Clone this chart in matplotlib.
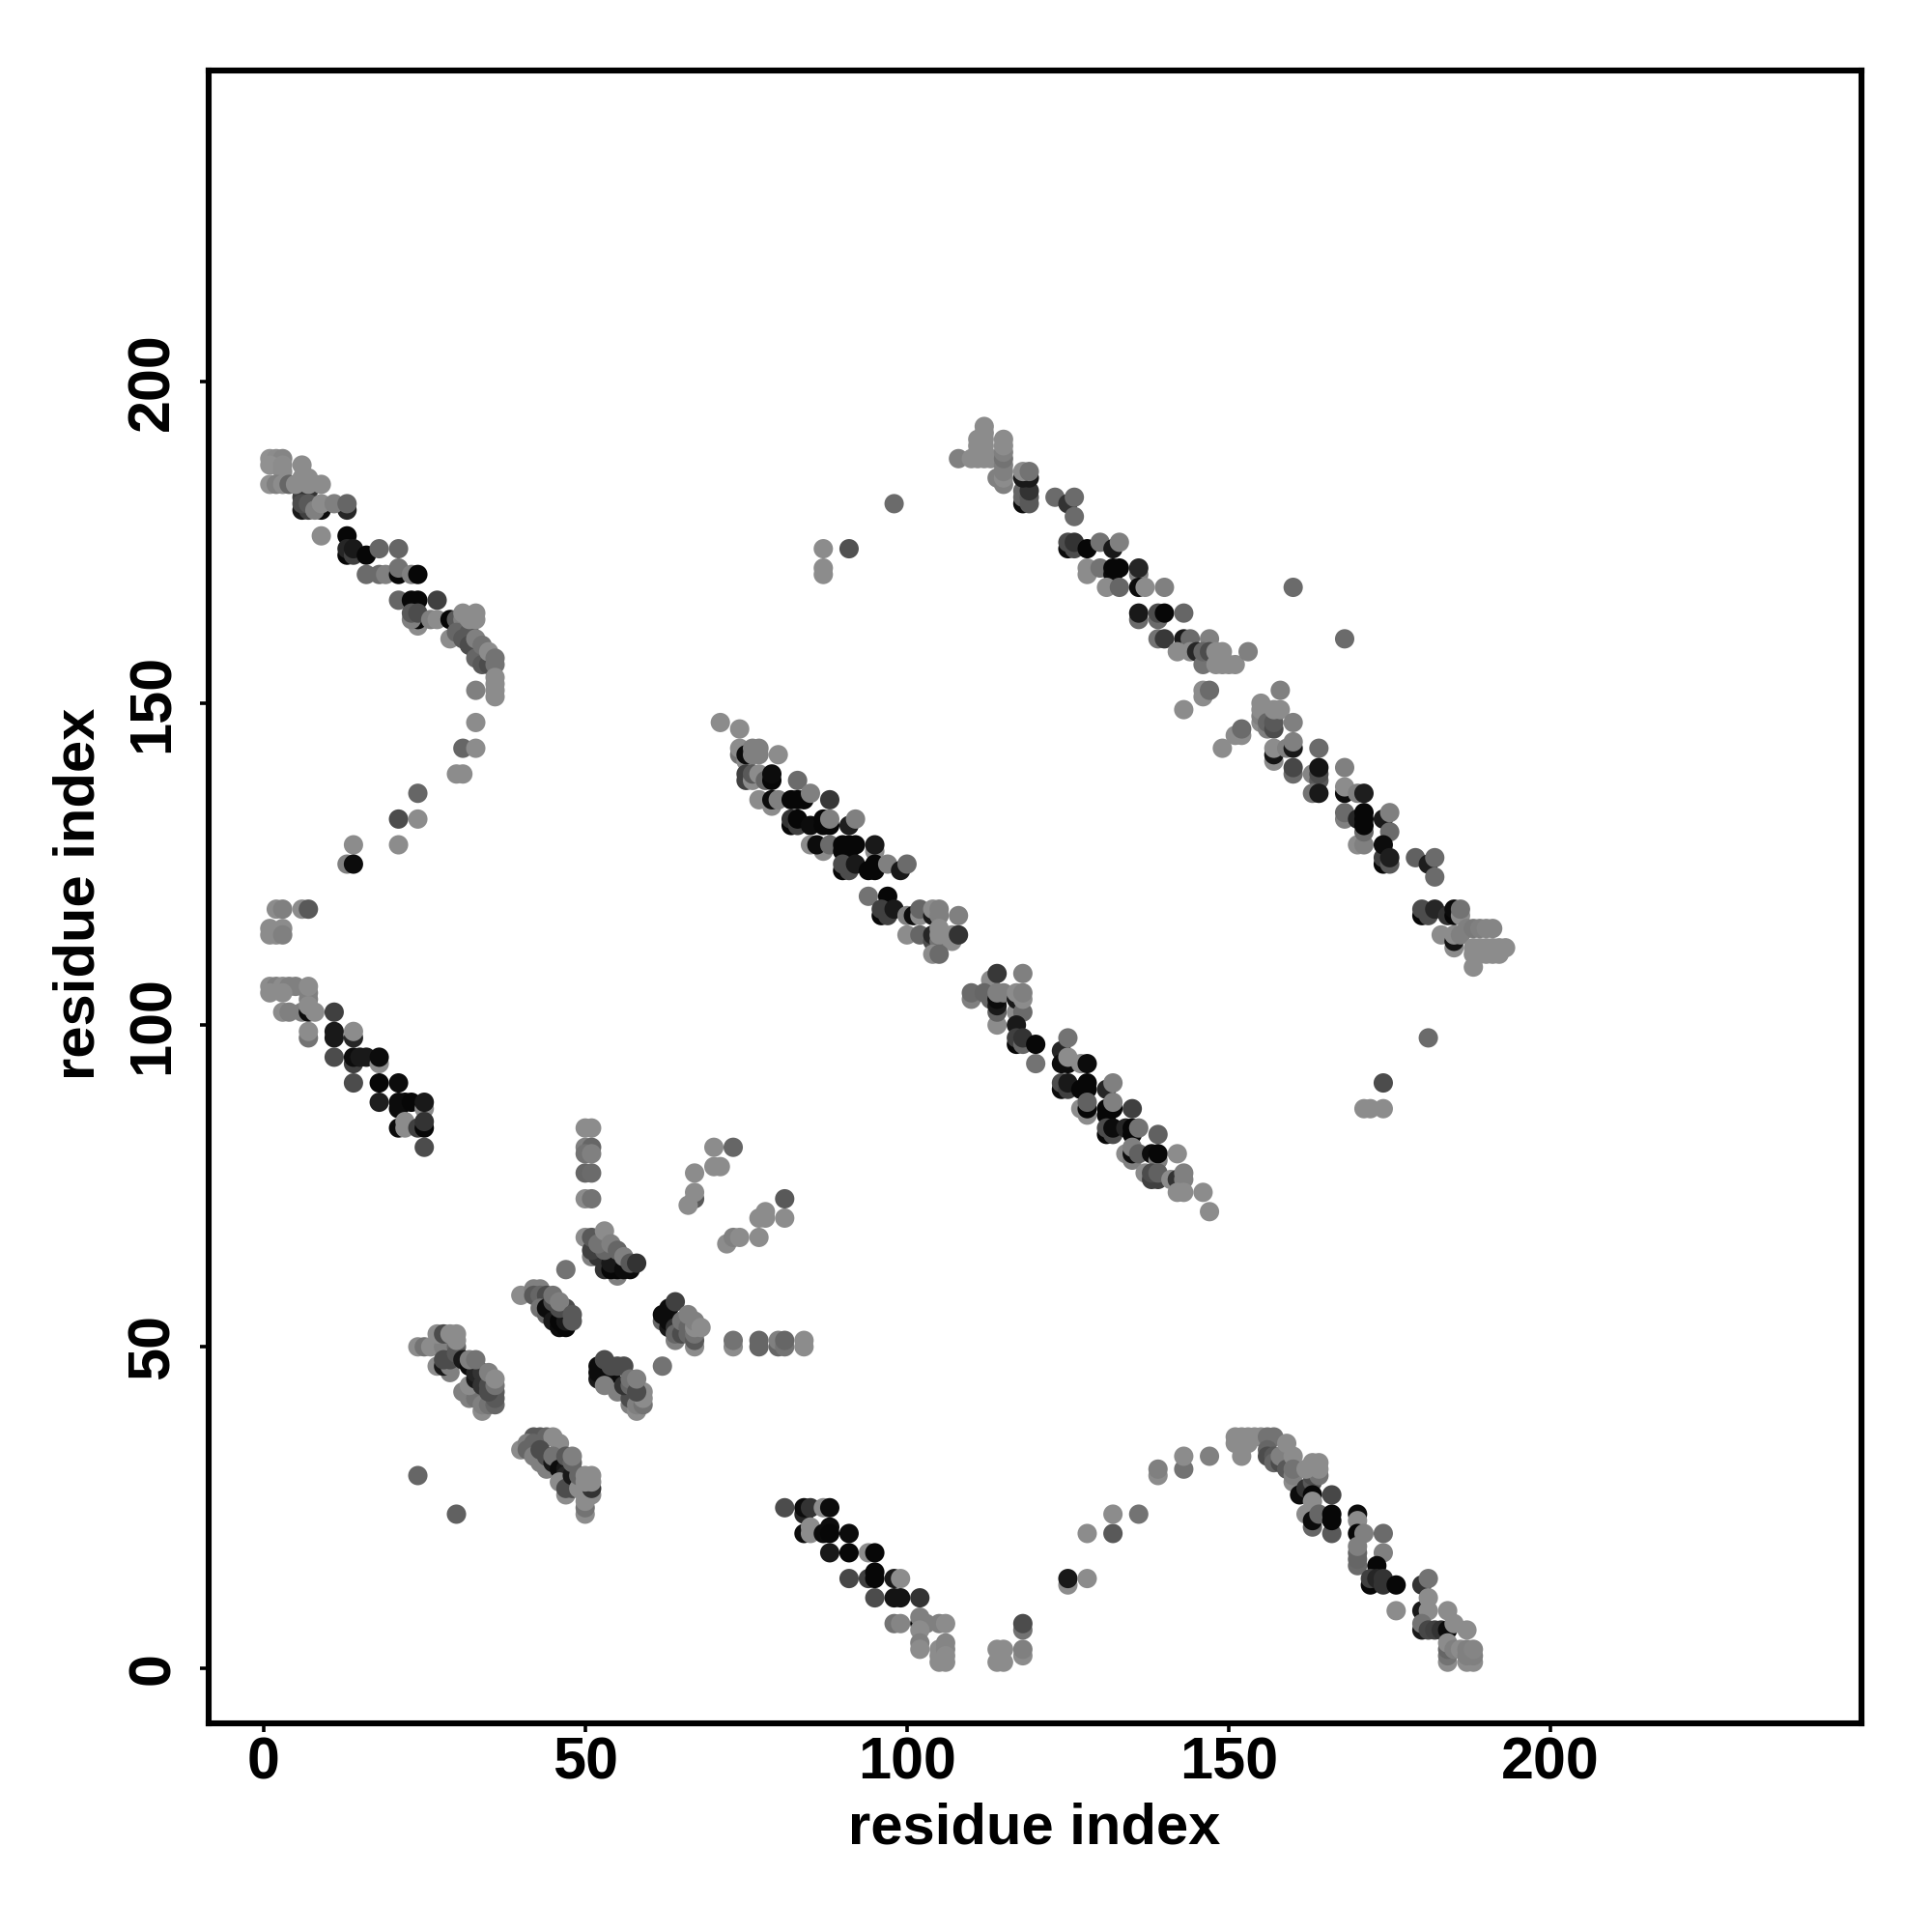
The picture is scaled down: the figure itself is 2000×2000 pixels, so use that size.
"""Contact map: residue index vs residue index, shade = contact score."""
import matplotlib
matplotlib.use("Agg")
import matplotlib.pyplot as plt

plt.rcParams["font.family"] = ["Liberation Sans", "DejaVu Sans"]

# (residue i, residue j, shade), one list per band
BAND_TOP_LEFT = [
    (6,183,.05),(6,182,.25),(7,183,.2),(1,188,.57),(2,188,.55),(3,188,.52),(1,187,.57),(3,187,.55),(3,186,.55),
    (1,184,.57),(2,184,.5),(3,184,.55),(4,184,.4),(5,184,.55),(6,187,.55),(6,185,.55),(7,185,.55),(7,184,.55),
    (9,184,.55),(6,180,.1),(7,180,.25),(9,180,.05),(13,180,.15),(6,181,.3),(7,181,.35),(8,180,.5),(9,181,.55),
    (11,181,.5),(13,181,.4),(9,176,.55),(13,176,.03),(13,173,.03),(13,174,.15),(14,173,.25),(14,174,.1),(16,173,.03),
    (18,174,.4),(21,174,.4),(16,170,.42),(18,170,.42),(19,170,.5),(21,170,.03),(21,171,.45),(23,170,.5),(24,170,.03),
    (21,166,.4),(23,166,.03),(24,166,.03),(27,166,.25),(24,162,.55),(24,163,.03),(23,163,.5),(23,164,.35),(24,164,.3),
    (26,163,.5),(27,163,.55),(29,163,.03),(30,163,.35),(31,163,.5),(29,160,.55),(31,161,.55),(30,161,.4),(31,160,.35),
    (32,161,.35),(32,159,.3),(33,158,.3),(34,157,.3),(33,157,.4),(34,156,.35),(35,156,.3),(31,164,.55),(33,164,.55),
    (32,163,.55),(33,163,.55),(33,160,.5),(34,159,.45),(35,158,.55),(36,157,.45),(36,156,.45),(36,154,.55),(36,153,.55),
    (36,152,.55),(36,151,.55),(33,152,.5),(33,147,.55),(31,143,.4),(33,143,.55),(30,139,.55),(31,139,.55),(24,136,.4),
    (24,132,.55),(21,132,.3),(21,128,.55),(14,128,.55),(13,125,.5),(14,125,.05),
]
BAND_LEFT = [
    (2,118,.55),(3,118,.5),(6,118,.55),(7,118,.35),(1,115,.55),(3,115,.55),(1,114,.55),(2,114,.55),(3,114,.5),
    (1,106,.55),(2,106,.5),(3,106,.55),(4,106,.5),(5,106,.5),(1,105,.55),(3,105,.55),(7,104,.5),(7,105,.5),(7,106,.55),
    (3,102,.55),(4,102,.5),(6,102,.5),(7,102,.05),(7,103,.55),(8,102,.55),(11,102,.25),(7,98,.45),(7,99,.55),
    (11,99,.1),(11,98,.1),(14,98,.15),(14,99,.55),(11,95,.3),(14,94,.25),(14,95,.05),(15,95,.1),(16,95,.1),
    (18,94,.55),(18,95,.05),(14,91,.3),(18,91,.03),(21,91,.05),(18,88,.12),(21,87,.05),(21,88,.05),(22,88,.05),
    (23,88,.03),(25,87,.55),(25,88,.1),(21,84,.05),(22,85,.55),(22,84,.55),(24,84,.25),(25,84,.03),(25,85,.2),(25,81,.3),
]
BAND_CENTRE_UPPER = [
    (50,84,.55),(51,84,.55),(50,81,.5),(51,81,.4),(50,80,.45),(51,80,.5),(50,77,.4),(51,77,.42),(50,73,.55),(51,73,.45),
    (50,67,.55),(51,64,.5),(55,61,.5),(52,64,.2),(51,65,.25),(51,67,.35),(53,62,.2),(54,62,.03),(55,62,.03),(54,63,.1),
    (56,62,.05),(57,62,.05),(53,65,.4),(52,66,.45),(53,68,.55),(54,66,.5),(55,65,.4),(56,64,.5),(57,63,.35),(58,63,.2),
    (47,62,.45),(40,58,.55),(42,59,.5),(43,59,.5),(42,58,.35),(43,58,.4),(44,58,.3),(43,56,.45),(44,55,.4),(44,56,.05),
    (45,55,.05),(45,54,.1),(46,53,.05),(47,53,.03),(46,54,.03),(47,54,.1),(45,57,.3),(46,56,.3),(47,56,.3),(45,58,.45),
    (46,57,.5),(48,55,.35),(48,54,.35),
    (64,51,.5),(62,54,.4),(62,55,.05),(63,53,.1),(63,54,.05),(63,56,.05),(64,53,.2),(64,52,.4),(65,52,.3),(64,57,.25),
    (65,54,.45),(66,52,.4),(66,53,.4),(66,55,.5),(67,50,.55),(67,51,.35),(67,52,.45),(67,53,.55),(67,54,.5),(68,53,.55),
    (73,50,.55),(73,51,.45),(77,50,.4),(77,51,.4),(80,50,.4),(80,51,.5),(81,50,.45),(81,51,.4),(84,50,.55),(84,51,.55),
    (70,81,.55),(73,81,.4),(67,77,.55),(70,78,.55),(71,78,.55),(67,73,.35),(67,74,.55),(66,72,.55),(72,66,.55),(73,67,.5),
    (74,67,.55),(77,67,.55),(77,70,.55),(78,70,.55),(78,71,.55),(81,70,.55),(81,73,.35),
]
BAND_CENTRE_LOWER = [
    (24,50,.55),(25,50,.45),(26,50,.55),(28,50,.5),(27,47,.55),(29,46,.5),(28,47,.1),(29,47,.5),(28,48,.3),(27,52,.55),
    (28,52,.3),(30,50,.4),(29,48,.3),(30,49,.35),(29,52,.55),(30,52,.55),(30,51,.55),(31,43,.5),(32,42,.5),(33,42,.45),
    (34,40,.55),(34,41,.5),(35,41,.45),(36,41,.4),(36,42,.35),(36,43,.35),(32,44,.55),(33,45,.1),(31,48,.1),(32,47,.05),
    (33,46,.15),(34,46,.2),(34,44,.2),(35,44,.3),(35,43,.3),(36,44,.45),(32,48,.5),(33,48,.45),(35,46,.5),(36,45,.55),
    (24,30,.4),(30,24,.38),
    (42,36,.35),(43,36,.35),(44,36,.4),(45,36,.55),(46,35,.55),(40,34,.55),(41,35,.5),(41,34,.4),(42,35,.4),(42,33,.5),
    (43,32,.5),(44,31,.5),(43,34,.3),(44,33,.3),(45,32,.1),(45,33,.45),(46,31,.05),(47,31,.1),(47,30,.15),(47,29,.05),
    (46,29,.55),(47,27,.55),(47,28,.3),(48,28,.3),(48,29,.3),(48,30,.1),(47,33,.35),(48,32,.4),(48,33,.5),
    (50,24,.55),(50,25,.45),(50,26,.55),(50,27,.55),(49,28,.55),(49,30,.4),(51,27,.55),(51,28,.2),(50,29,.55),(51,29,.55),
    (50,30,.55),(51,30,.55),
    (52,45,.1),(52,46,.05),(52,47,.05),(53,46,.05),(54,45,.05),(55,44,.05),(56,43,.1),(53,44,.5),(55,43,.5),(57,41,.5),
    (58,40,.55),(57,42,.3),(58,41,.5),(59,41,.45),(59,42,.55),(59,43,.55),(53,48,.3),(54,47,.3),(55,47,.3),(56,47,.3),
    (56,44,.2),(57,44,.4),(57,45,.45),(58,43,.3),(58,45,.5),(62,47,.45),
]
BAND_BOTTOM_LEFT = [
    (81,25,.3),(84,24,.15),(84,25,.05),(85,25,.2),(87,25,.55),(88,25,.05),(84,21,.05),(85,22,.55),(85,21,.55),(87,21,.05),
    (88,22,.05),(88,21,.03),(91,21,.05),(88,18,.1),(91,18,.03),(94,18,.55),(95,18,.03),(91,14,.28),(94,14,.25),(95,15,.03),
    (95,14,.03),(98,14,.1),(99,14,.55),(95,11,.3),(98,11,.08),(99,11,.08),(102,11,.2),(98,7,.45),(99,7,.52),(102,7,.03),
    (102,8,.5),(103,7,.5),(102,6,.55),(105,7,.5),(106,7,.55),(102,4,.5),(102,3,.55),(105,3,.55),(105,2,.55),(105,1,.55),
    (106,4,.52),(106,3,.52),(106,2,.55),(106,1,.55),(114,1,.55),(115,1,.55),(114,3,.55),(115,3,.55),(118,6,.45),(118,7,.3),
    (118,2,.55),(118,3,.5),
    (125,13,.55),(125,14,.1),(128,14,.55),(128,21,.55),(132,21,.35),(132,24,.55),(136,24,.45),(139,30,.55),(139,31,.5),
    (143,31,.45),(143,33,.55),(147,33,.5),
]
BAND_BOTTOM_RIGHT = [
    (152,33,.55),(151,36,.55),(152,36,.55),(153,36,.55),(154,36,.55),(155,36,.55),(151,35,.55),(153,35,.55),(156,36,.45),
    (157,36,.45),(156,34,.4),(156,33,.3),(157,33,.35),(157,32,.4),(158,32,.3),(158,33,.5),(159,31,.35),(159,35,.55),
    (160,33,.55),(160,29,.55),(160,30,.5),(160,31,.45),(161,27,.05),(162,28,.2),(163,29,.35),(163,30,.3),(163,31,.3),
    (164,30,.45),(162,31,.55),(163,32,.55),(164,31,.55),(164,32,.55),(162,24,.55),(163,22,.4),(163,23,.05),(163,27,.03),
    (163,26,.55),(164,24,.4),(166,27,.28),(166,21,.35),(166,23,.03),(166,24,.03),(170,24,.05),(170,23,.55),(170,21,.03),
    (171,21,.5),(174,21,.42),(170,16,.42),(170,17,.4),(170,18,.4),(170,19,.5),(174,18,.5),(173,16,.03),(172,13,.03),
    (172,14,.25),(173,14,.15),(174,13,.2),(174,14,.2),(176,13,.03),(176,9,.55),(180,13,.2),(181,14,.45),(180,9,.1),
    (181,11,.55),(181,9,.55),(180,6,.1),(180,7,.45),(181,6,.28),(182,6,.25),(183,6,.2),(184,6,.05),(184,9,.55),(185,7,.55),
    (187,6,.55),(184,1,.55),(184,2,.45),(184,3,.4),(184,4,.55),(185,3,.5),(186,3,.55),(187,1,.55),(188,1,.55),(187,2,.5),
    (188,2,.5),(187,3,.5),(188,3,.52),
]
BAND_MIDDLE_UPPER = [
    (71,147,.55),(74,146,.55),(74,142,.45),(74,143,.55),(75,141,.55),(75,142,.05),(76,142,.5),(77,142,.5),(76,143,.5),
    (77,143,.5),(80,142,.55),(75,138,.25),(75,139,.25),(76,138,.55),(76,139,.35),(77,139,.55),(78,138,.4),(79,138,.03),
    (79,139,.05),(83,138,.42),(77,135,.55),(79,134,.55),(79,135,.05),(80,135,.5),(82,135,.03),(83,135,.03),(84,135,.03),
    (85,136,.5),(88,135,.22),(82,131,.03),(82,132,.2),(83,131,.25),(83,132,.03),(85,131,.05),(87,131,.03),(87,132,.03),
    (88,131,.03),(88,132,.5),(91,131,.12),(92,132,.5),(85,128,.55),(87,127,.55),(86,128,.05),(88,128,.42),(90,127,.03),
    (91,127,.03),(90,128,.03),(91,128,.03),(92,128,.03),(95,127,.55),(95,128,.1),(90,124,.03),(90,125,.3),(91,124,.3),
    (92,125,.1),(94,124,.03),(95,124,.03),(95,125,.03),(97,125,.5),(99,124,.1),(100,125,.42),(94,120,.45),(97,120,.03),
    (96,117,.03),(96,118,.25),(97,117,.25),(98,118,.1),(100,117,.5),(101,117,.05),(102,117,.55),(102,118,.4),(104,117,.1),
    (104,118,.55),(105,117,.5),(105,118,.5),(108,117,.5),(100,114,.55),(102,114,.4),(104,113,.3),(104,114,.15),(105,113,.45),
    (105,114,.55),(105,115,.55),(107,113,.55),(107,114,.55),(108,114,.2),(104,111,.55),(105,111,.42),
]
BAND_MIDDLE_LOWER = [
    (113,107,.55),(114,108,.22),(118,108,.5),(110,104,.5),(110,105,.42),(112,105,.4),(113,104,.4),(114,100,.55),(114,102,.38),
    (114,103,.1),(114,104,.05),(114,105,.5),(115,105,.5),(117,102,.55),(117,104,.1),(117,105,.55),(118,102,.42),(118,104,.55),
    (118,105,.5),(117,100,.1),(117,97,.03),(117,98,.25),(118,97,.4),(118,98,.2),(120,97,.03),(120,94,.45),(124,96,.15),
    (125,98,.45),(124,94,.05),(125,94,.05),(125,95,.55),(127,94,.55),(128,94,.05),(124,90,.05),(124,91,.3),(125,90,.25),
    (125,91,.1),(127,90,.03),(128,90,.03),(128,91,.03),(131,90,.15),(132,91,.5),(127,87,.55),(128,86,.55),(128,87,.03),
    (128,88,.38),(131,86,.03),(131,87,.03),(132,87,.03),(132,88,.5),(135,87,.25),(131,83,.03),(131,84,.3),(132,83,.3),
    (132,84,.05),(134,84,.15),(135,83,.03),(135,84,.03),(136,84,.45),(139,83,.38),(134,80,.55),(135,79,.5),(135,80,.05),
    (135,81,.5),(136,80,.38),(138,80,.05),(139,79,.5),(139,80,.03),(142,80,.55),(137,77,.55),(138,76,.25),(139,76,.25),
    (138,77,.3),(139,77,.38),(141,76,.55),(142,76,.2),(143,76,.5),(143,77,.5),(142,74,.55),(143,74,.55),(146,74,.55),(147,71,.55),
]
BAND_UPPER_RIGHT = [
    (87,170,.55),(87,171,.55),(87,174,.55),(91,174,.32),(98,181,.42),
    (108,188,.5),(110,188,.55),(111,188,.55),(112,188,.55),(113,188,.55),(111,189,.55),(112,189,.55),(112,190,.55),(111,191,.55),
    (112,193,.55),(111,190,.55),(112,191,.55),(112,192,.55),(114,185,.5),(115,184,.5),(115,185,.55),(115,186,.5),(115,187,.5),
    (115,188,.45),(115,189,.5),(115,190,.55),(115,191,.55),(118,181,.05),(118,182,.4),(118,183,.4),(119,181,.35),(119,182,.35),
    (119,183,.2),(118,185,.1),(119,185,.1),(118,186,.55),(119,186,.45),(123,182,.42),(125,181,.2),(126,179,.42),(126,182,.42),
    (125,174,.05),(125,175,.3),(126,174,.3),(126,175,.2),(128,174,.03),(130,175,.45),(132,174,.1),(133,175,.5),(128,170,.55),
    (128,171,.55),(130,171,.45),(132,170,.05),(132,171,.03),(133,171,.03),(136,170,.5),(136,171,.15),(131,168,.55),(133,168,.4),
    (136,168,.05),(137,168,.55),(140,168,.5),(136,163,.42),(136,164,.1),(139,163,.42),(139,164,.3),(140,164,.03),(143,164,.4),
    (139,160,.45),(140,160,.22),(143,159,.1),(143,160,.1),(144,160,.42),(147,160,.5),(142,158,.55),(144,158,.55),(145,158,.15),
    (146,156,.45),(146,158,.4),(147,158,.3),(148,156,.55),(149,156,.55),(150,156,.55),(151,156,.55),(148,158,.55),(149,158,.55),
    (153,158,.5),(143,149,.55),(146,151,.55),(146,152,.55),(147,152,.42),(149,143,.55),(151,145,.55),(152,145,.55),(152,146,.42),
]
BAND_RIGHT = [
    (160,168,.42),(168,160,.42),(155,147,.55),(155,148,.5),(155,149,.55),(155,150,.55),(156,146,.5),(156,147,.4),(157,146,.3),
    (157,147,.35),(157,149,.55),(158,149,.55),(158,152,.5),(160,147,.5),(157,141,.55),(157,142,.08),(157,143,.55),(159,143,.5),
    (160,143,.1),(160,144,.5),(164,143,.42),(160,139,.42),(160,140,.28),(163,139,.52),(164,138,.35),(164,139,.3),(164,140,.08),
    (163,136,.45),(164,136,.1),(168,136,.05),(168,137,.55),(168,140,.5),(170,136,.5),(171,136,.12),(168,132,.5),(168,133,.42),
    (170,128,.55),(171,128,.5),(171,130,.42),(170,132,.15),(171,131,.03),(171,132,.03),(171,133,.03),(174,132,.1),(175,133,.5),
    (175,130,.42),(174,125,.03),(174,126,.25),(174,128,.05),(175,125,.35),(175,126,.12),(179,126,.38),(181,125,.12),(182,126,.42),
    (182,123,.42),(180,117,.03),(180,118,.3),(181,117,.3),(182,118,.15),(184,117,.2),(185,117,.03),(185,118,.05),(186,117,.55),
    (186,118,.45),(183,114,.55),(185,112,.55),(185,113,.08),(185,114,.55),(186,114,.5),(187,115,.5),(188,115,.48),(189,115,.5),
    (190,115,.52),(191,115,.52),(188,109,.55),(188,111,.55),(189,111,.55),(190,111,.55),(191,111,.55),(192,111,.55),(188,112,.55),
    (189,112,.55),(190,112,.55),(191,112,.55),(192,112,.55),(193,112,.55),(181,98,.42),(174,91,.3),(171,87,.55),(172,87,.55),(174,87,.55),
]
BANDS = [BAND_TOP_LEFT, BAND_LEFT, BAND_CENTRE_UPPER, BAND_CENTRE_LOWER, BAND_BOTTOM_LEFT,
         BAND_BOTTOM_RIGHT, BAND_MIDDLE_UPPER, BAND_MIDDLE_LOWER, BAND_UPPER_RIGHT, BAND_RIGHT]

TICKS = [0, 50, 100, 150, 200]
AXIS_LABEL = "residue index"

fig = plt.figure(figsize=(10, 10), dpi=200)
ax = fig.add_axes([216 / 2000, 1 - 1784 / 2000, (1927 - 216) / 2000, (1784 - 73) / 2000])

for band in BANDS:
    xs = [p[0] for p in band]
    ys = [p[1] for p in band]
    shade = [p[2] for p in band]
    ax.scatter(xs, ys, c=shade, cmap="gray", vmin=0, vmax=1, s=52, linewidths=0, zorder=2)

ax.set_xlim(-8.5, 248.3)
ax.set_ylim(-8.5, 248.3)
ax.set_xticks(TICKS)
ax.set_yticks(TICKS)
ax.tick_params(length=3.2, width=1.3, labelsize=22)
ax.tick_params(axis="x", pad=1.5)
ax.tick_params(axis="y", pad=7)
for lab in ax.get_xticklabels():
    lab.set_fontweight("bold")
for lab in ax.get_yticklabels():
    lab.set_fontweight("bold")
    lab.set_rotation(90)
    lab.set_va("center")
for spine in ax.spines.values():
    spine.set_linewidth(2.2)

fig.text(1071 / 2000, 1 - 1893 / 2000, AXIS_LABEL, ha="center", va="center", fontsize=21.5, fontweight="bold")
fig.text(82 / 2000, 1 - 925 / 2000, AXIS_LABEL, ha="center", va="center", rotation=90, fontsize=21.5, fontweight="bold")

fig.savefig("out.png", dpi=200)
plt.close(fig)
